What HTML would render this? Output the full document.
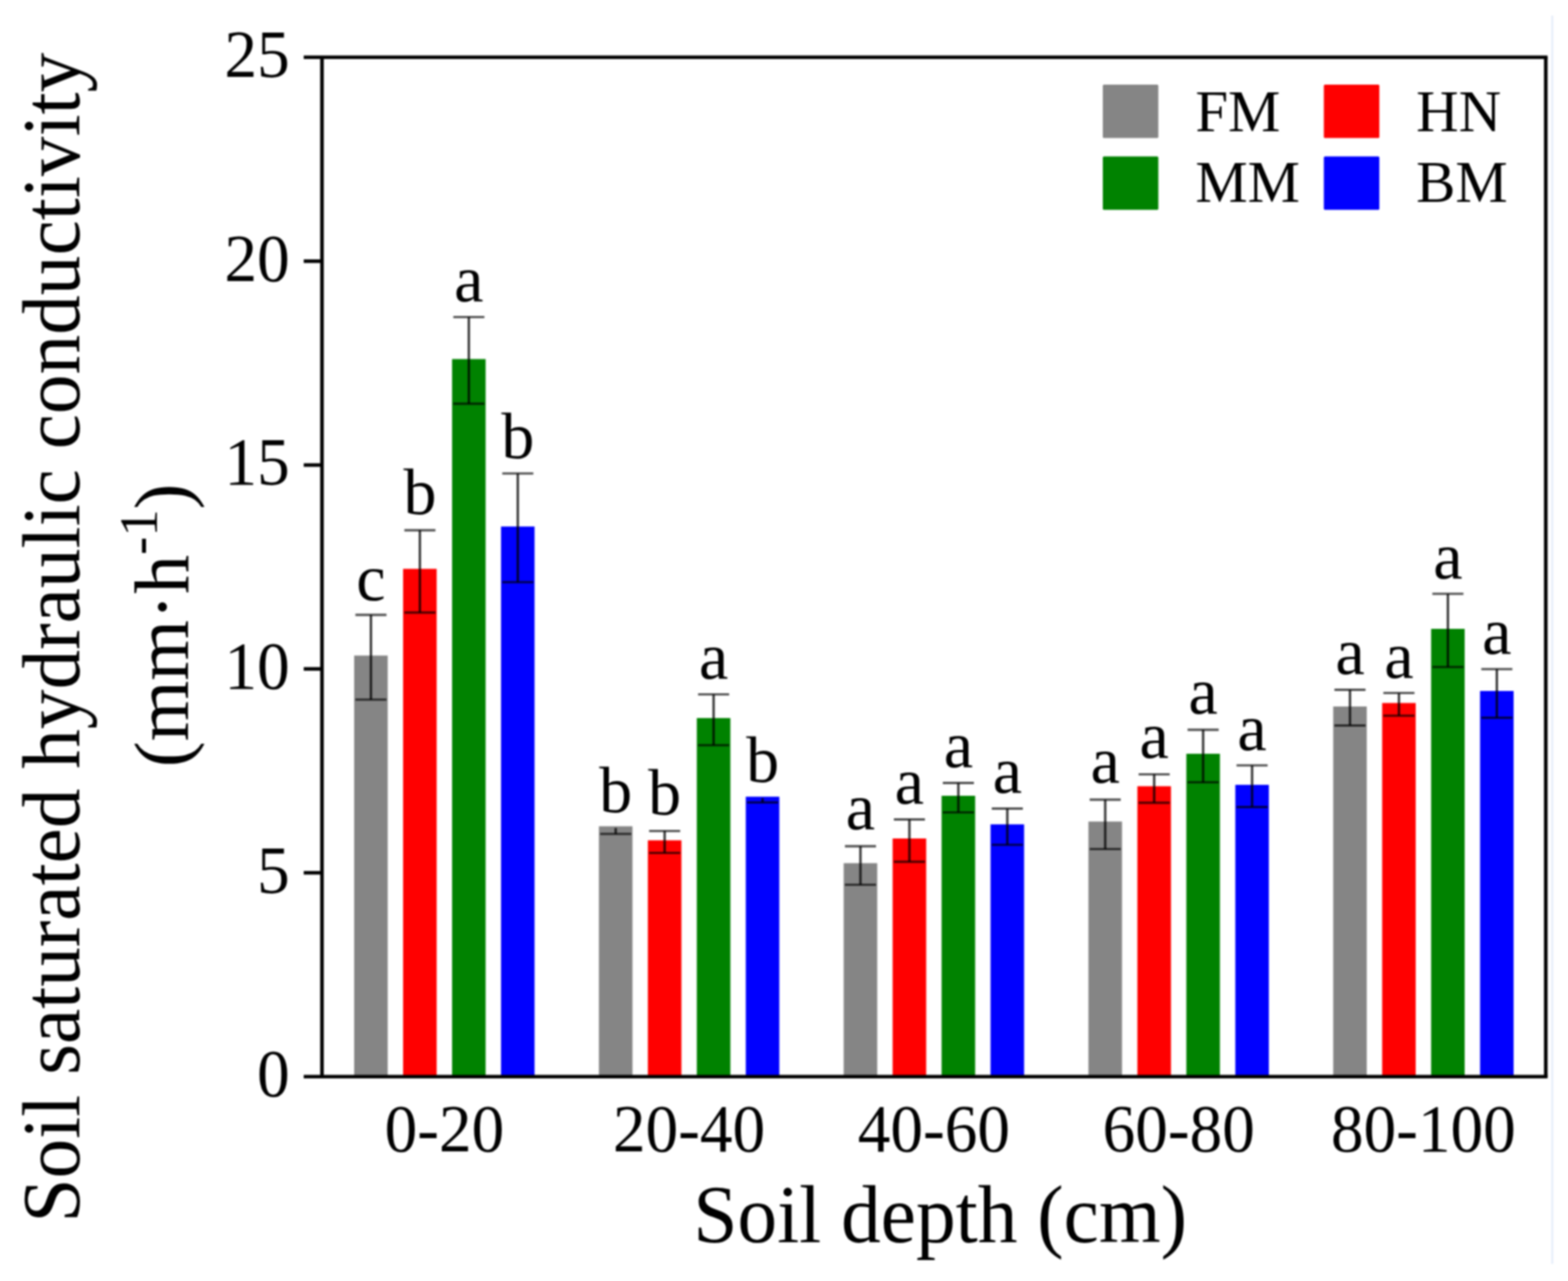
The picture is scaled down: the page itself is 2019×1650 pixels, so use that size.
<!DOCTYPE html>
<html lang="en"><head><meta charset="utf-8"><title>Soil saturated hydraulic conductivity</title>
<style>
html,body{margin:0;padding:0;background:#fff;}
body{width:2019px;height:1650px;overflow:hidden;}
svg{display:block;filter:blur(0.8px);}
text{font-family:"Liberation Serif",serif;fill:#000;}
.tick{font-size:84px;}
.lab{font-size:102.2px;}
.leg{font-size:75.7px;}
.bl{font-size:85px;}
</style></head><body>
<svg width="2019" height="1650" viewBox="0 0 2019 1650">
<rect x="0" y="0" width="2019" height="1650" fill="#ffffff"/>
<rect x="1997.5" y="20" width="2.5" height="1608" fill="#e6edf9"/>
<g>
<rect x="456.03" y="844.40" width="43.20" height="542.40" fill="#858585"/>
<rect x="519.06" y="732.70" width="43.20" height="654.10" fill="#ff0000"/>
<rect x="582.10" y="462.50" width="43.20" height="924.30" fill="#008200"/>
<rect x="645.13" y="678.20" width="43.20" height="708.60" fill="#0000ff"/>
<rect x="771.19" y="1064.30" width="43.20" height="322.50" fill="#858585"/>
<rect x="834.22" y="1082.40" width="43.20" height="304.40" fill="#ff0000"/>
<rect x="897.26" y="924.90" width="43.20" height="461.90" fill="#008200"/>
<rect x="960.29" y="1026.20" width="43.20" height="360.60" fill="#0000ff"/>
<rect x="1086.35" y="1111.80" width="43.20" height="275.00" fill="#858585"/>
<rect x="1149.38" y="1080.00" width="43.20" height="306.80" fill="#ff0000"/>
<rect x="1212.42" y="1025.00" width="43.20" height="361.80" fill="#008200"/>
<rect x="1275.45" y="1061.80" width="43.20" height="325.00" fill="#0000ff"/>
<rect x="1401.51" y="1058.20" width="43.20" height="328.60" fill="#858585"/>
<rect x="1464.54" y="1012.70" width="43.20" height="374.10" fill="#ff0000"/>
<rect x="1527.58" y="970.90" width="43.20" height="415.90" fill="#008200"/>
<rect x="1590.61" y="1010.90" width="43.20" height="375.90" fill="#0000ff"/>
<rect x="1716.67" y="910.00" width="43.20" height="476.80" fill="#858585"/>
<rect x="1779.70" y="905.50" width="43.20" height="481.30" fill="#ff0000"/>
<rect x="1842.74" y="810.00" width="43.20" height="576.80" fill="#008200"/>
<rect x="1905.77" y="890.00" width="43.20" height="496.80" fill="#0000ff"/>
</g>
<g stroke="#000" fill="none">
<path d="M477.63 792.00V901.10" stroke-width="3" stroke-opacity="0.8"/>
<path d="M457.63 792.00H497.63M457.63 901.10H497.63" stroke-width="2.8" stroke-opacity="0.7"/>
<path d="M540.66 683.00V789.00" stroke-width="3" stroke-opacity="0.8"/>
<path d="M520.66 683.00H560.66M520.66 789.00H560.66" stroke-width="2.8" stroke-opacity="0.7"/>
<path d="M603.70 408.40V520.00" stroke-width="3" stroke-opacity="0.8"/>
<path d="M583.70 408.40H623.70M583.70 520.00H623.70" stroke-width="2.8" stroke-opacity="0.7"/>
<path d="M666.73 609.80V749.80" stroke-width="3" stroke-opacity="0.8"/>
<path d="M646.73 609.80H686.73M646.73 749.80H686.73" stroke-width="2.8" stroke-opacity="0.7"/>
<path d="M792.79 1066.50V1074.20" stroke-width="3" stroke-opacity="0.8"/>
<path d="M772.79 1074.20H812.79" stroke-width="2.8" stroke-opacity="0.7"/>
<path d="M855.82 1070.30V1098.60" stroke-width="3" stroke-opacity="0.8"/>
<path d="M835.82 1070.30H875.82M835.82 1098.60H875.82" stroke-width="2.8" stroke-opacity="0.7"/>
<path d="M918.86 894.40V959.80" stroke-width="3" stroke-opacity="0.8"/>
<path d="M898.86 894.40H938.86M898.86 959.80H938.86" stroke-width="2.8" stroke-opacity="0.7"/>
<path d="M981.89 1028.00V1033.60" stroke-width="3" stroke-opacity="0.8"/>
<path d="M961.89 1033.60H1001.89" stroke-width="2.8" stroke-opacity="0.7"/>
<path d="M1107.95 1090.00V1139.60" stroke-width="3" stroke-opacity="0.8"/>
<path d="M1087.95 1090.00H1127.95M1087.95 1139.60H1127.95" stroke-width="2.8" stroke-opacity="0.7"/>
<path d="M1170.98 1055.50V1110.00" stroke-width="3" stroke-opacity="0.8"/>
<path d="M1150.98 1055.50H1190.98M1150.98 1110.00H1190.98" stroke-width="2.8" stroke-opacity="0.7"/>
<path d="M1234.02 1008.50V1046.40" stroke-width="3" stroke-opacity="0.8"/>
<path d="M1214.02 1008.50H1254.02M1214.02 1046.40H1254.02" stroke-width="2.8" stroke-opacity="0.7"/>
<path d="M1297.05 1041.50V1088.20" stroke-width="3" stroke-opacity="0.8"/>
<path d="M1277.05 1041.50H1317.05M1277.05 1088.20H1317.05" stroke-width="2.8" stroke-opacity="0.7"/>
<path d="M1423.11 1030.00V1093.60" stroke-width="3" stroke-opacity="0.8"/>
<path d="M1403.11 1030.00H1443.11M1403.11 1093.60H1443.11" stroke-width="2.8" stroke-opacity="0.7"/>
<path d="M1486.14 997.30V1034.00" stroke-width="3" stroke-opacity="0.8"/>
<path d="M1466.14 997.30H1506.14M1466.14 1034.00H1506.14" stroke-width="2.8" stroke-opacity="0.7"/>
<path d="M1549.18 940.00V1007.60" stroke-width="3" stroke-opacity="0.8"/>
<path d="M1529.18 940.00H1569.18M1529.18 1007.60H1569.18" stroke-width="2.8" stroke-opacity="0.7"/>
<path d="M1612.21 985.80V1039.50" stroke-width="3" stroke-opacity="0.8"/>
<path d="M1592.21 985.80H1632.21M1592.21 1039.50H1632.21" stroke-width="2.8" stroke-opacity="0.7"/>
<path d="M1738.27 888.50V934.50" stroke-width="3" stroke-opacity="0.8"/>
<path d="M1718.27 888.50H1758.27M1718.27 934.50H1758.27" stroke-width="2.8" stroke-opacity="0.7"/>
<path d="M1801.30 892.70V921.80" stroke-width="3" stroke-opacity="0.8"/>
<path d="M1781.30 892.70H1821.30M1781.30 921.80H1821.30" stroke-width="2.8" stroke-opacity="0.7"/>
<path d="M1864.34 764.90V859.10" stroke-width="3" stroke-opacity="0.8"/>
<path d="M1844.34 764.90H1884.34M1844.34 859.10H1884.34" stroke-width="2.8" stroke-opacity="0.7"/>
<path d="M1927.37 861.80V924.50" stroke-width="3" stroke-opacity="0.8"/>
<path d="M1907.37 861.80H1947.37M1907.37 924.50H1947.37" stroke-width="2.8" stroke-opacity="0.7"/>
</g>
<g class="bl" text-anchor="middle">
<text x="477.63" y="772.70">c</text>
<text x="540.66" y="661.80">b</text>
<text x="603.70" y="388.00">a</text>
<text x="666.73" y="589.80">b</text>
<text x="792.79" y="1046.00">b</text>
<text x="855.82" y="1049.40">b</text>
<text x="918.86" y="874.00">a</text>
<text x="981.89" y="1006.60">b</text>
<text x="1107.95" y="1068.20">a</text>
<text x="1170.98" y="1034.90">a</text>
<text x="1234.02" y="988.20">a</text>
<text x="1297.05" y="1020.90">a</text>
<text x="1423.11" y="1008.20">a</text>
<text x="1486.14" y="976.40">a</text>
<text x="1549.18" y="919.10">a</text>
<text x="1612.21" y="965.50">a</text>
<text x="1738.27" y="868.20">a</text>
<text x="1801.30" y="872.70">a</text>
<text x="1864.34" y="745.10">a</text>
<text x="1927.37" y="841.50">a</text>
</g>
<g stroke="#000" stroke-width="4.60" fill="none" stroke-linecap="butt">
<path d="M391.10 73.80H1992.70"/>
<path d="M391.10 1386.80H1992.70"/>
<path d="M414.60 73.80V1386.80"/>
<path d="M1990.40 73.80V1386.80"/>
<path d="M391.10 1124.20H414.60"/>
<path d="M391.10 861.60H414.60"/>
<path d="M391.10 599.00H414.60"/>
<path d="M391.10 336.40H414.60"/>
</g>
<g class="tick" text-anchor="end">
<text transform="translate(373.00 1412.20) scale(1 1.040)">0</text>
<text transform="translate(373.00 1149.60) scale(1 1.040)">5</text>
<text transform="translate(373.00 887.00) scale(1 1.040)">10</text>
<text transform="translate(373.00 624.40) scale(1 1.040)">15</text>
<text transform="translate(373.00 361.80) scale(1 1.040)">20</text>
<text transform="translate(373.00 99.20) scale(1 1.040)">25</text>
</g>
<g class="tick" text-anchor="middle">
<text transform="translate(572.18 1483.00) scale(1 1.040)">0-20</text>
<text transform="translate(887.34 1483.00) scale(1 1.040)">20-40</text>
<text transform="translate(1202.50 1483.00) scale(1 1.040)">40-60</text>
<text transform="translate(1517.66 1483.00) scale(1 1.040)">60-80</text>
<text transform="translate(1832.82 1483.00) scale(1 1.040)">80-100</text>
</g>
<text class="lab" text-anchor="middle" transform="translate(1210.60 1600.00) scale(1 1.030)">Soil depth (cm)</text>
<text class="lab" text-anchor="middle" transform="translate(101.50 821.40) rotate(-90) scale(1 1.03)">Soil saturated hydraulic conductivity</text>
<text class="lab" style="font-size:100.5px" text-anchor="middle" transform="translate(242.00 805.50) rotate(-90)">(mm·h<tspan font-size="70.3" dy="-40.2">-1</tspan><tspan dy="40.2">)</tspan></text>
<g class="leg">
<rect x="1420.00" y="108.90" width="71.5" height="68.8" rx="1.5" fill="#858585"/>
<text x="1539.23" y="169.00">FM</text>
<rect x="1420.00" y="201.50" width="71.5" height="68.8" rx="1.5" fill="#008200"/>
<text x="1539.23" y="259.80">MM</text>
<rect x="1704.60" y="108.90" width="71.5" height="68.8" rx="1.5" fill="#ff0000"/>
<text x="1823.53" y="169.00">HN</text>
<rect x="1704.60" y="201.50" width="71.5" height="68.8" rx="1.5" fill="#0000ff"/>
<text x="1823.53" y="259.80">BM</text>
</g>
</svg>
</body></html>
